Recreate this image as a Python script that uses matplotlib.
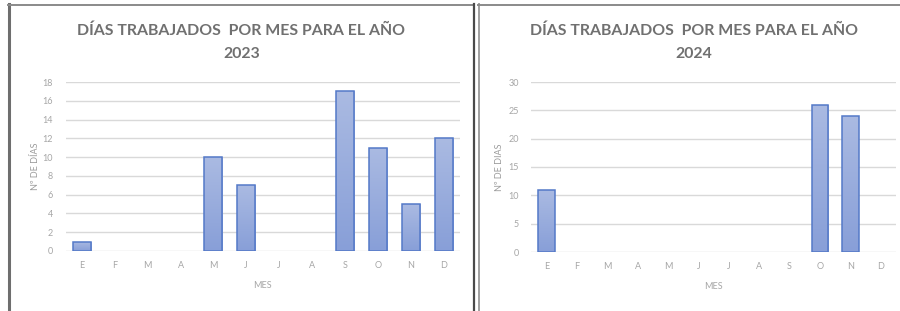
import matplotlib
matplotlib.use("Agg")
import matplotlib.pyplot as plt
import numpy as np
from matplotlib.colors import LinearSegmentedColormap
from matplotlib.lines import Line2D

months = ["E", "F", "M", "A", "M", "J", "J", "A", "S", "O", "N", "D"]
dias_2023 = [1, 0, 0, 0, 10, 7, 0, 0, 17, 11, 5, 12]
dias_2024 = [11, 0, 0, 0, 0, 0, 0, 0, 0, 26, 24, 0]
yticks_2023 = [0, 2, 4, 6, 8, 10, 12, 14, 16, 18]
yticks_2024 = [0, 5, 10, 15, 20, 25, 30]
title_2023 = "DÍAS TRABAJADOS  POR MES PARA EL AÑO\n2023"
title_2024 = "DÍAS TRABAJADOS  POR MES PARA EL AÑO\n2024"
ylabel_2023 = "Nº DE DÍAS"
ylabel_2024 = "Nº DE DIAS"
xlabel = "MES"

W, H = 900, 311
fig = plt.figure(figsize=(W / 100, H / 100), dpi=100)
fig.patch.set_facecolor("white")

cmap = LinearSegmentedColormap.from_list("g", ["#aabae2", "#889fd8"])
grad = np.linspace(0, 1, 64).reshape(-1, 1)

TICK_C = "#a6a6a6"
TITLE_C = "#707070"
FONT = ["Lato", "DejaVu Sans"]


def px_axes(x0, x1, ytop, ybot):
    return fig.add_axes([x0 / W, (H - ybot) / H, (x1 - x0) / W, (ybot - ytop) / H])


def draw(ax, vals, yt, title, ylabel, title_x, ylab_x):
    x = np.arange(len(months))
    edges = ["#5479c8" if v > 0 else "none" for v in vals]
    bars = ax.bar(x, vals, width=0.55, color="none", edgecolor=edges,
                  linewidth=1.1, zorder=3)
    for b in bars:
        if b.get_height() <= 0:
            continue
        im = ax.imshow(grad, cmap=cmap, aspect="auto", origin="upper",
                       extent=[b.get_x(), b.get_x() + b.get_width(), 0, b.get_height()],
                       zorder=2)
        im.set_clip_path(b)
    ax.set_xlim(-0.5, len(months) - 0.5)
    ax.set_ylim(yt[0], yt[-1])
    ax.set_yticks(yt)
    ax.set_xticks(x)
    ax.set_xticklabels(months)
    ax.grid(axis="y", color="#d9d9d9", linewidth=1.0, zorder=0)
    ax.set_axisbelow(True)
    for s in ax.spines.values():
        s.set_visible(False)
    ax.tick_params(length=0, colors=TICK_C, labelsize=6.5, pad=7)
    ax.tick_params(axis="y", pad=9)
    for lab in ax.get_xticklabels() + ax.get_yticklabels():
        lab.set_family(FONT)
    ax.set_xlabel(xlabel, color=TICK_C, fontsize=6.5, family=FONT, labelpad=8)
    bb = ax.get_position()
    fig.text(ylab_x / W, (bb.y0 + bb.y1) / 2, ylabel, rotation=90, ha="center",
             va="center", color="#9a9a9a", fontsize=6.5, family=FONT)
    fig.text(title_x / W, 1 - 42 / H, title, ha="center", va="center",
             color=TITLE_C, fontsize=11.4, fontweight="bold", family=FONT,
             linespacing=1.8)


ax1 = px_axes(65.5, 460, 82, 251)
draw(ax1, dias_2023, yticks_2023, title_2023, ylabel_2023, 241.5, 35)
ax2 = px_axes(531.3, 896, 82, 252)
draw(ax2, dias_2024, yticks_2024, title_2024, ylabel_2024, 694, 500)


def fline(xs, ys, c, lw):
    fig.add_artist(Line2D([v / W for v in xs], [1 - v / H for v in ys],
                          color=c, linewidth=lw, transform=fig.transFigure))


# chart frames (screenshot borders)
fline([9, 9], [4, 311], "#6e6e6e", 2.2)
fline([8, 474], [4.5, 4.5], "#8a8a8a", 1.4)
fline([473.5, 473.5], [4, 311], "#4a4a4a", 1.6)
fline([479, 479], [4, 311], "#a0a0a0", 1.4)
fline([478, 900], [4.5, 4.5], "#8a8a8a", 1.4)

fig.savefig("out.png", dpi=100, facecolor="white")
